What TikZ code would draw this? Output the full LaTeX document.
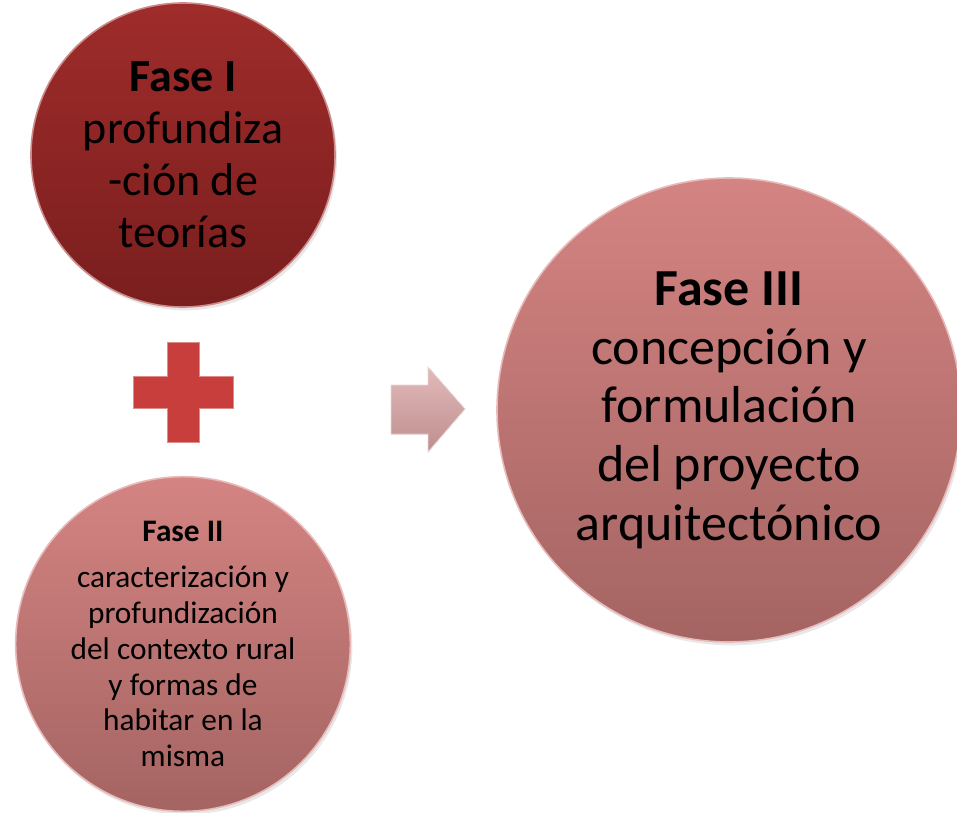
\documentclass[tikz,border=0pt]{standalone}
\usepackage{fontspec}
\setmainfont{Carlito}
\usetikzlibrary{shadows}

\definecolor{rojoarriba}{RGB}{158,44,42}
\definecolor{rojoabajo}{RGB}{122,30,30}
\definecolor{rosaarriba}{RGB}{212,132,130}
\definecolor{rosaabajo}{RGB}{164,100,98}
\definecolor{cruzrojo}{RGB}{200,62,60}
\definecolor{flecharosa}{RGB}{226,186,186}
\definecolor{flechaabajo}{RGB}{190,142,142}

\begin{document}
\begin{tikzpicture}[x=0.75pt,y=-0.75pt,
  fase/.style={circle,inner sep=0pt,align=center,text=black,
    drop shadow={shadow xshift=1.5pt,shadow yshift=-2.5pt,opacity=0.18}},
  oscura/.style={fase,top color=rojoarriba,bottom color=rojoabajo,
    draw=rojoarriba!55!white,line width=1.2pt},
  clara/.style={fase,top color=rosaarriba,bottom color=rosaabajo,
    draw=rosaarriba!55!white,line width=1.2pt}]
\useasboundingbox (0,0) rectangle (957,813);

% fases
\node[oscura,minimum size=228pt,font=\fontsize{34.5}{39}\selectfont]
  at (183,155) (fase1) {\textbf{Fase I}\\profundiza\\-ción de\\teorías};
\node[clara,minimum size=251pt,font=\fontsize{23.5}{26.8}\selectfont]
  at (183,644) (fase2) {\textbf{Fase II}\\[8pt]caracterización y\\profundización\\del contexto rural\\y formas de\\habitar en la\\misma};
\node[clara,minimum size=348pt,font=\fontsize{39}{44}\selectfont]
  at (729,410) (fase3) {\textbf{Fase III}\\concepción y\\formulación\\del proyecto\\arquitectónico};

% signo mas
\coordinate (mas) at (183,392);
\filldraw[fill=cruzrojo,draw=cruzrojo!60!white,line width=0.6pt]
  (mas) ++(-16,-50) -- ++(32,0) -- ++(0,34) -- ++(34,0) -- ++(0,32)
  -- ++(-34,0) -- ++(0,34) -- ++(-32,0) -- ++(0,-34) -- ++(-34,0)
  -- ++(0,-32) -- ++(34,0) -- cycle;

% flecha
\coordinate (flecha) at (391,409);
\filldraw[top color=flecharosa,bottom color=flechaabajo,
  draw=flecharosa!60!white,line width=0.6pt]
  (flecha) ++(0,-24) -- ++(37,0) -- ++(0,-18) -- ++(37,42)
  -- ++(-37,43) -- ++(0,-18) -- ++(-37,0) -- cycle;
\end{tikzpicture}
\end{document}
